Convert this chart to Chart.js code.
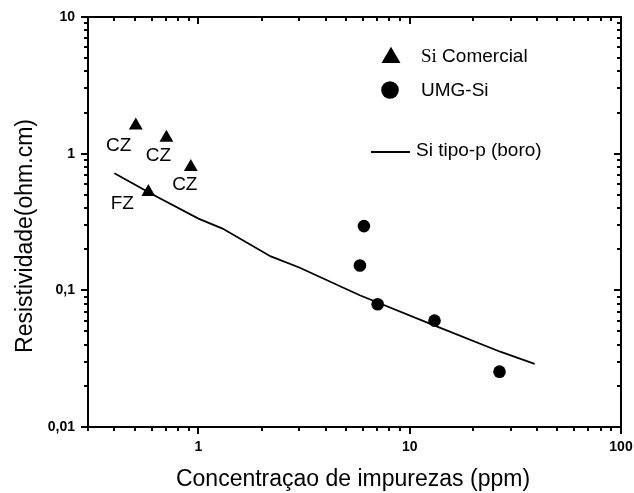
<!DOCTYPE html>
<html>
<head>
<meta charset="utf-8">
<script src="https://cdn.jsdelivr.net/npm/chart.js@4.4.0/dist/chart.umd.min.js"></script>
<style>
  body { margin: 0; background: #fff; }
</style>
</head>
<body>
<canvas id="myChart" width="634" height="493"></canvas>
<script>
// values (log-log axes)
const commercialX = [0.505, 0.705, 0.92, 0.579];
const commercialY = [1.61, 1.31, 0.80, 0.525];
const commercialTags = ["CZ", "CZ", "CZ", "FZ"];

const umgX = [6.07, 5.81, 7.05, 13.1, 26.6];
const umgY = [0.295, 0.152, 0.079, 0.060, 0.0254];

const boronX = [0.4, 0.61, 1.0, 1.3, 2.2, 3.0, 5.8, 13.4, 27, 39];
const boronY = [0.72, 0.50, 0.335, 0.283, 0.177, 0.147, 0.092, 0.0545, 0.0354, 0.029];

const xRange = [0.3, 100];
const yRange = [0.01, 10];

const xTitle = "Concentraçao de impurezas (ppm)";
const yTitle = "Resistividade(ohm.cm)";

const SANS = "'Liberation Sans', Arial, sans-serif";
const SERIF = "'Liberation Serif', 'Times New Roman', serif";

const isDecade = (v) => Math.abs(Math.log10(v) - Math.round(Math.log10(v))) < 1e-9;
const fmt = (v) => (isDecade(v) ? String(v).replace(".", ",") : "");

const toPoints = (xs, ys) => xs.map((x, i) => ({ x: x, y: ys[i] }));

// all log tick values (1..9 x 10^n) in a range
function logTicks(min, max) {
  const out = [];
  for (let e = Math.floor(Math.log10(min)); e <= Math.ceil(Math.log10(max)); e++) {
    for (let m = 1; m <= 9; m++) {
      const v = m * Math.pow(10, e);
      if (v >= min * 0.999 && v <= max * 1.001) out.push(v);
    }
  }
  return out;
}

const framePlugin = {
  id: "frame",
  afterDraw(chart) {
    const ctx = chart.ctx;
    const a = chart.chartArea;
    const xs = chart.scales.x;
    const ys = chart.scales.y;
    ctx.save();
    ctx.fillStyle = "#000";
    ctx.strokeStyle = "#000";
    ctx.lineWidth = 2;
    ctx.strokeRect(a.left, a.top, a.right - a.left, a.bottom - a.top);

    // tick marks: outward on bottom/left, inward on top/right
    logTicks(xRange[0], xRange[1]).forEach((v) => {
      const px = Math.round(xs.getPixelForValue(v));
      const len = isDecade(v) ? 7 : 4;
      ctx.fillRect(px - 1, a.bottom, 2, len);
      ctx.fillRect(px - 1, a.top, 2, len);
    });
    logTicks(yRange[0], yRange[1]).forEach((v) => {
      const py = Math.round(ys.getPixelForValue(v));
      const len = isDecade(v) ? 7 : 4;
      ctx.fillRect(a.left - len, py - 1, len, 2);
      ctx.fillRect(a.right - len, py - 1, len, 2);
    });

    // axis titles
    ctx.font = "23px " + SANS;
    ctx.textAlign = "center";
    ctx.textBaseline = "alphabetic";
    ctx.fillText(xTitle, 353, 486);
    ctx.save();
    ctx.translate(32, 236);
    ctx.rotate(-Math.PI / 2);
    ctx.fillText(yTitle, 0, 0);
    ctx.restore();

    // point tags next to the commercial samples
    const tagOffsets = [[-17, 20], [-8, 18], [-6, 18], [-26, 12]];
    ctx.font = "19px " + SANS;
    ctx.textBaseline = "middle";
    commercialTags.forEach((t, i) => {
      const px = xs.getPixelForValue(commercialX[i]) + tagOffsets[i][0];
      const py = ys.getPixelForValue(commercialY[i]) + tagOffsets[i][1];
      ctx.fillText(t, px, py);
    });

    // legend
    ctx.beginPath();
    ctx.moveTo(391, 46.7);
    ctx.lineTo(391 + 9.5, 63);
    ctx.lineTo(391 - 9.5, 63);
    ctx.closePath();
    ctx.fill();
    ctx.beginPath();
    ctx.arc(390, 90, 8.8, 0, Math.PI * 2);
    ctx.fill();
    ctx.fillRect(371, 151, 39, 2);

    ctx.textAlign = "left";
    ctx.font = "19px " + SERIF;
    ctx.fillText("Si", 421, 57);
    const w = ctx.measureText("Si").width;
    ctx.font = "19px " + SANS;
    ctx.fillText(" Comercial", 421 + w, 57);
    ctx.fillText("UMG-Si", 421, 90.5);
    ctx.fillText("Si tipo-p (boro)", 416, 151);
    ctx.restore();
  },
};

const canvas = document.querySelector("#myChart");
const tickFont = { family: SANS, size: 14, weight: "bold" };

const myChart = new Chart(canvas.getContext("2d"), {
  type: "scatter",
  data: {
    datasets: [
      {
        label: "Si tipo-p (boro)",
        data: toPoints(boronX, boronY),
        showLine: true,
        borderColor: "#000",
        borderWidth: 1.8,
        pointRadius: 0,
        tension: 0,
      },
      {
        label: "UMG-Si",
        data: toPoints(umgX, umgY),
        pointStyle: "circle",
        pointRadius: 6.3,
        backgroundColor: "#000",
        borderColor: "#000",
        borderWidth: 0,
      },
      {
        label: "Si Comercial",
        data: toPoints(commercialX, commercialY),
        pointStyle: "triangle",
        pointRadius: 8,
        backgroundColor: "#000",
        borderColor: "#000",
        borderWidth: 0,
      },
    ],
  },
  options: {
    responsive: false,
    animation: false,
    layout: { padding: { top: 17, right: 13, left: 0, bottom: 0 } },
    plugins: {
      legend: { display: false },
      tooltip: { enabled: false },
    },
    scales: {
      x: {
        type: "logarithmic",
        position: "bottom",
        min: xRange[0],
        max: xRange[1],
        grid: { display: false, drawTicks: false },
        border: { display: false },
        ticks: {
          autoSkip: false,
          maxRotation: 0,
          padding: 12,
          color: "#000",
          font: tickFont,
          callback: (v) => fmt(v),
        },
        afterFit: (s) => {
          s.height = 66;
          s.paddingLeft = 0;
          s.paddingRight = 0;
        },
      },
      y: {
        type: "logarithmic",
        position: "left",
        min: yRange[0],
        max: yRange[1],
        grid: { display: false, drawTicks: false },
        border: { display: false },
        ticks: {
          autoSkip: false,
          padding: 13,
          color: "#000",
          font: tickFont,
          callback: (v) => fmt(v),
        },
        afterFit: (s) => {
          s.width = 88;
          s.paddingTop = 0;
          s.paddingBottom = 0;
        },
      },
    },
  },
  plugins: [framePlugin],
});
</script>
</body>
</html>
